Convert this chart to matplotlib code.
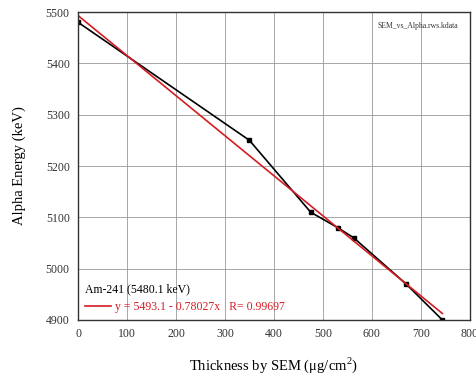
import matplotlib.pyplot as plt

# thickness (ug/cm2) vs measured alpha energy (keV)
thickness = [0, 350, 475, 530, 563, 670, 744]
energy = [5480, 5250, 5110, 5080, 5060, 4970, 4900]

# linear fit  y = a + b*x
fit_a = 5493.1
fit_b = -0.78027
fit_r = 0.99697
fit_x = [0, 744]

plt.rcParams['font.family'] = ['Liberation Serif', 'DejaVu Serif']
plt.rcParams['mathtext.fontset'] = 'custom'
plt.rcParams['mathtext.rm'] = 'Liberation Serif'

fig = plt.figure(figsize=(4.76, 3.76), dpi=100)
ax = fig.add_axes([0.164, 0.149, 0.823, 0.819])

ax.plot(thickness, energy, color='black', lw=1.2, marker='s', ms=3.5)
fit_y = [fit_a + fit_b * x for x in fit_x]
fl, = ax.plot(fit_x, fit_y, color='#d41c24', lw=1.2)

ax.set_xlim(0, 800)
ax.set_ylim(4900, 5500)
ax.set_xticks(range(0, 801, 100))
ax.set_yticks(range(4900, 5501, 100))
ax.grid(True, color='#999999', lw=0.6)
ax.tick_params(length=0, labelsize=8.5, pad=6, colors='#333333')
for s in ax.spines.values():
    s.set_linewidth(1.0)
    s.set_color('#333333')

ax.set_xlabel('Thickness by SEM (\u03bcg/cm$^\\mathrm{2}$)', fontsize=10.5, labelpad=11)
ax.set_ylabel('Alpha Energy (keV)', fontsize=10.5, labelpad=14)

ax.text(0.97, 0.955, 'SEM_vs_Alpha.rws.kdata', transform=ax.transAxes,
        fontsize=5.5, ha='right', va='center', color='#333333')

leg = ax.legend([fl], ['y = 5493.1 - 0.78027x   R= %.5f' % fit_r],
                title='Am-241 (5480.1 keV)', loc='lower left',
                frameon=False, labelcolor='#d41c24', fontsize=8.5,
                title_fontsize=8.5, alignment='left', handlelength=2.2,
                handletextpad=0.3, borderaxespad=0.2)

fig.savefig('out.png', dpi=100)
